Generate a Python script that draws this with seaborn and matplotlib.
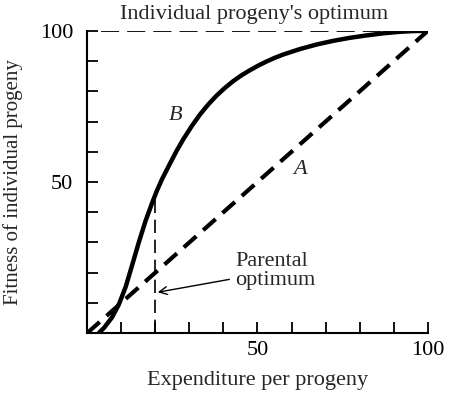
import numpy as np
import pandas as pd
import seaborn as sns
import matplotlib.pyplot as plt

# Curve B: fitness of individual progeny
b_expenditure = [3.4, 5, 7.3, 9.3, 11.3, 13.2, 15.2, 17.1, 19.1, 20.5, 22,
                 24.4, 26.3, 28.3, 30.7, 33.1, 35.5, 38, 40.5, 42.9, 45.3,
                 47.8, 50.2, 52.7, 55.1, 57.6, 62.5, 67.4, 72.2, 77.1, 82,
                 86.9, 91.8, 96, 100]
b_fitness = [0, 1.8, 5.2, 9.5, 15.3, 22.5, 30.2, 37, 43.2, 47.2, 51,
             56.3, 60.4, 64.3, 68.5, 72.3, 75.6, 78.6, 81.2, 83.4, 85.3,
             87, 88.5, 89.9, 91.1, 92.2, 94, 95.5, 96.7, 97.7, 98.5,
             99.2, 99.7, 99.95, 100]

# Line A: straight diagonal
a_expenditure = [0, 100]
a_fitness = [0, 100]

parental_optimum = 20
parental_fitness = 45
progeny_optimum = 100

x_ticks = list(range(0, 101, 10))
y_ticks = list(range(0, 101, 10))

sns.set_style("ticks")
plt.rcParams["font.family"] = ["Liberation Serif", "DejaVu Serif"]

fig = plt.figure(figsize=(4.59, 3.96), dpi=100)
ax = fig.add_axes([0.19, 0.159, 0.742, 0.763])

b_df = pd.DataFrame({"x": b_expenditure, "y": b_fitness})
a_df = pd.DataFrame({"x": a_expenditure, "y": a_fitness})

sns.lineplot(data=b_df, x="x", y="y", ax=ax, color="black", lw=3.2,
             sort=False, solid_capstyle="round", solid_joinstyle="round")
sns.lineplot(data=a_df, x="x", y="y", ax=ax, color="black", lw=3.0,
             dashes=False, linestyle=(0, (4, 2.2)))

# optimum guide lines
ax.plot([4, progeny_optimum], [100, 100], color="black", lw=1.3,
        linestyle=(0, (10, 4.5)))
ax.plot([parental_optimum, parental_optimum], [0, parental_fitness],
        color="black", lw=1.2, linestyle=(0, (8, 4)))

ax.set_xlim(0, 100)
ax.set_ylim(0, 100)
ax.set_xticks(x_ticks)
ax.set_xticklabels(["" if t not in (50, 100) else str(t) for t in x_ticks])
ax.set_yticks(y_ticks)
ax.set_yticklabels(["" if t not in (50, 100) else str(t) for t in y_ticks])
ax.tick_params(direction="in", length=8, width=1.3, labelsize=16,
               colors="black")
ax.tick_params(axis="x", pad=6)
ax.tick_params(axis="y", pad=10)
for side in ("top", "right"):
    ax.spines[side].set_visible(False)
for side in ("left", "bottom"):
    ax.spines[side].set_linewidth(1.5)
    ax.spines[side].set_color("black")

ax.set_xlabel("Expenditure per progeny", fontsize=16, labelpad=8)
ax.set_ylabel("Fitness of individual progeny", fontsize=15, labelpad=12)

ax.text(49, 105.5, "Individual progeny's optimum", ha="center", va="center",
        fontsize=16, clip_on=False)
ax.text(26, 72, "B", fontsize=16, style="italic", ha="center", va="center")
ax.text(62.5, 54, "A", fontsize=16, style="italic", ha="center", va="center")
ax.annotate("Parental\noptimum", xy=(20.7, 13.5), xytext=(43.5, 20.5),
            fontsize=16, ha="left", va="center", multialignment="left",
            linespacing=1.0,
            arrowprops=dict(arrowstyle="->", color="black", lw=1.0,
                            shrinkA=2, shrinkB=0,
                            mutation_scale=14))

fig.savefig("out.png", dpi=100, facecolor="white")
